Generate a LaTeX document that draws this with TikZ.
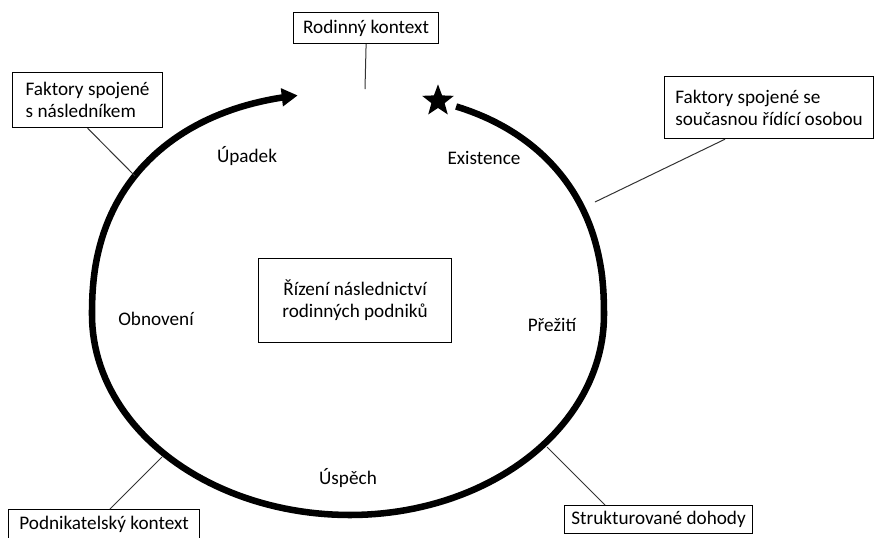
\documentclass[tikz,border=0pt]{standalone}
\usepackage{fontspec}
\setmainfont{Carlito}
\usetikzlibrary{arrows.meta,shapes.geometric}
\begin{document}
\begin{tikzpicture}[x=0.75pt,y=-0.75pt,
  every node/.style={font=\fontsize{14.4}{16.5}\selectfont, text=black},
  box/.style={draw, line width=0.9pt, anchor=north west, align=left, inner sep=0pt},
  lbl/.style={inner sep=0pt},
  callout/.style={draw=black!80, line width=0.75pt},
  loopline/.style={line width=4.9pt, line join=round}]
\useasboundingbox (0,0) rectangle (876,537);
% boxes
\node[box, minimum width=145*0.75pt, minimum height=31*0.75pt] (rod) at (293,12) {Rodinný kontext};
\node[box, minimum width=150*0.75pt, minimum height=55*0.75pt] (fsn) at (12,72) {Faktory spojené\\s následníkem};
\node[box, minimum width=209*0.75pt, minimum height=62*0.75pt] (fso) at (664,76) {Faktory spojené se\\současnou řídící osobou};
\node[box, align=center, minimum width=193*0.75pt, minimum height=84*0.75pt] (rizeni) at (258,258) {Řízení následnictví\\rodinných podniků};
\node[box, minimum width=191*0.75pt, minimum height=30*0.75pt] (pod) at (8,509) {Podnikatelský kontext};
\node[box, minimum width=188*0.75pt, minimum height=28*0.75pt] (str) at (564,505) {Strukturované dohody};
% phase labels
\node[lbl] (upadek) at (247,156) {Úpadek};
\node[lbl] (exist) at (484,158) {Existence};
\node[lbl] (obnov) at (156,319) {Obnovení};
\node[lbl] (prez) at (552,325) {Přežití};
\node[lbl] (uspech) at (348,478) {Úspěch};
% star
\node[star, star points=5, star point ratio=2.4, fill=black, minimum size=25pt, inner sep=0pt] (star) at (438,101) {};
% cycle curve (superellipse top, ellipse bottom)
\draw[loopline, -{Triangle[length=12pt, width=13pt]}]
  plot[domain=68.5:0.5, samples=50, variable=\t] ({350+254*pow(cos(\t),0.8696)}, {315-222*pow(sin(\t),0.8696)})
  -- plot[domain=0:-90, samples=50, variable=\t] ({350+254*cos(\t)}, {315-200*sin(\t)})
  -- plot[domain=-90:-180, samples=50, variable=\t] ({350+258*cos(\t)}, {315-200*sin(\t)})
  -- plot[domain=179.5:99.1, samples=50, variable=\t] ({350-258*pow(-cos(\t),0.8696)}, {315-222*pow(sin(\t),0.8696)});
% callout ends on the curve
\coordinate (c1) at (365,89);
\coordinate (c2) at (135,176);
\coordinate (c3) at (595,202);
\coordinate (c4) at (162,457);
\coordinate (c5) at (547,447);
\draw[callout] (rod.south) -- (c1);
\draw[callout] (fsn.south) -- (c2);
\draw[callout] ([xshift=45.75pt]fso.south west) -- (c3);
\draw[callout] ([xshift=76.5pt]pod.north west) -- (c4);
\draw[callout] ([xshift=30.75pt]str.north west) -- (c5);
\end{tikzpicture}
\end{document}
